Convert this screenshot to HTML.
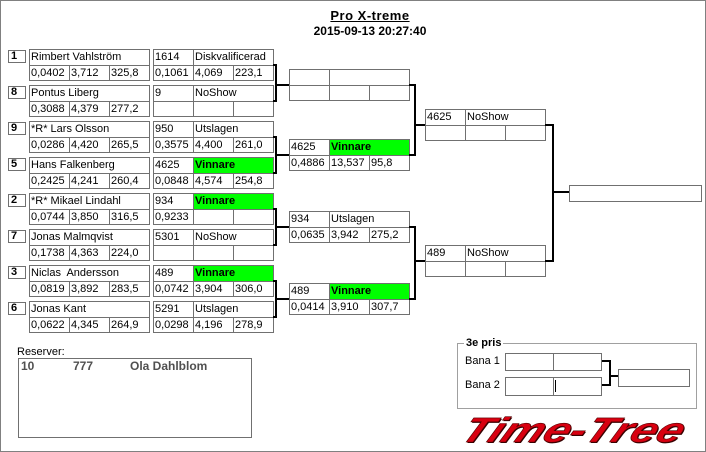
<!DOCTYPE html>
<html><head><meta charset="utf-8">
<style>
body{margin:0;width:706px;height:452px;position:relative;background:#fff;overflow:hidden;font-family:"Liberation Sans",sans-serif;color:#000}
div{position:absolute;box-sizing:border-box}
.a{border:1px solid #707070;height:17px;line-height:15px;font-size:11px;padding-left:1px;white-space:nowrap;overflow:hidden}
.b{border:1px solid #707070;height:16px;line-height:14px;font-size:11px;padding-left:1px;white-space:nowrap;overflow:hidden}
.w1{width:41px}.w2{width:81px}.w3{width:121px}
.g{background:#00ff00;font-weight:bold}
.k{background:#000}
.s{border:1px solid #707070;width:18px;height:13px;font-weight:bold;font-size:11px;line-height:11px;padding-left:2px}
.t{font-size:11px;white-space:nowrap}
.r{font-weight:bold;font-size:12px;color:#505050;white-space:nowrap;top:359px}
</style></head><body>
<div style="left:0;top:0;width:706px;height:452px;border:1px solid #808080"></div>

<div style="left:290px;top:8px;width:160px;text-align:center;font-weight:bold;font-size:13px;line-height:15px;letter-spacing:0.5px;text-decoration:underline">Pro X-treme</div>
<div style="left:290px;top:24px;width:160px;text-align:center;font-weight:bold;font-size:12px;line-height:14px">2015-09-13 20:27:40</div>

<!-- Row 1 T=49 -->
<div class="s" style="left:8px;top:50px">1</div>
<div class="a w3" style="left:29px;top:49px">Rimbert Vahlström</div>
<div class="b w1" style="left:29px;top:65px">0,0402</div>
<div class="b w1" style="left:69px;top:65px">3,712</div>
<div class="b w1" style="left:109px;top:65px">325,8</div>
<div class="a w1" style="left:153px;top:49px">1614</div>
<div class="a w2" style="left:193px;top:49px">Diskvalificerad</div>
<div class="b w1" style="left:153px;top:65px">0,1061</div>
<div class="b w1" style="left:193px;top:65px">4,069</div>
<div class="b w1" style="left:233px;top:65px">223,1</div>

<!-- Row 2 T=85 -->
<div class="s" style="left:8px;top:86px">8</div>
<div class="a w3" style="left:29px;top:85px">Pontus Liberg</div>
<div class="b w1" style="left:29px;top:101px">0,3088</div>
<div class="b w1" style="left:69px;top:101px">4,379</div>
<div class="b w1" style="left:109px;top:101px">277,2</div>
<div class="a w1" style="left:153px;top:85px">9</div>
<div class="a w2" style="left:193px;top:85px">NoShow</div>
<div class="b w1" style="left:153px;top:101px"></div>
<div class="b w1" style="left:193px;top:101px"></div>
<div class="b w1" style="left:233px;top:101px"></div>

<!-- Row 3 T=121 -->
<div class="s" style="left:8px;top:122px">9</div>
<div class="a w3" style="left:29px;top:121px">*R* Lars Olsson</div>
<div class="b w1" style="left:29px;top:137px">0,0286</div>
<div class="b w1" style="left:69px;top:137px">4,420</div>
<div class="b w1" style="left:109px;top:137px">265,5</div>
<div class="a w1" style="left:153px;top:121px">950</div>
<div class="a w2" style="left:193px;top:121px">Utslagen</div>
<div class="b w1" style="left:153px;top:137px">0,3575</div>
<div class="b w1" style="left:193px;top:137px">4,400</div>
<div class="b w1" style="left:233px;top:137px">261,0</div>

<!-- Row 4 T=157 -->
<div class="s" style="left:8px;top:158px">5</div>
<div class="a w3" style="left:29px;top:157px">Hans Falkenberg</div>
<div class="b w1" style="left:29px;top:173px">0,2425</div>
<div class="b w1" style="left:69px;top:173px">4,241</div>
<div class="b w1" style="left:109px;top:173px">260,4</div>
<div class="a w1" style="left:153px;top:157px">4625</div>
<div class="a w2 g" style="left:193px;top:157px">Vinnare</div>
<div class="b w1" style="left:153px;top:173px">0,0848</div>
<div class="b w1" style="left:193px;top:173px">4,574</div>
<div class="b w1" style="left:233px;top:173px">254,8</div>

<!-- Row 5 T=193 -->
<div class="s" style="left:8px;top:194px">2</div>
<div class="a w3" style="left:29px;top:193px">*R* Mikael Lindahl</div>
<div class="b w1" style="left:29px;top:209px">0,0744</div>
<div class="b w1" style="left:69px;top:209px">3,850</div>
<div class="b w1" style="left:109px;top:209px">316,5</div>
<div class="a w1" style="left:153px;top:193px">934</div>
<div class="a w2 g" style="left:193px;top:193px">Vinnare</div>
<div class="b w1" style="left:153px;top:209px">0,9233</div>
<div class="b w1" style="left:193px;top:209px"></div>
<div class="b w1" style="left:233px;top:209px"></div>

<!-- Row 6 T=229 -->
<div class="s" style="left:8px;top:230px">7</div>
<div class="a w3" style="left:29px;top:229px">Jonas Malmqvist</div>
<div class="b w1" style="left:29px;top:245px">0,1738</div>
<div class="b w1" style="left:69px;top:245px">4,363</div>
<div class="b w1" style="left:109px;top:245px">224,0</div>
<div class="a w1" style="left:153px;top:229px">5301</div>
<div class="a w2" style="left:193px;top:229px">NoShow</div>
<div class="b w1" style="left:153px;top:245px"></div>
<div class="b w1" style="left:193px;top:245px"></div>
<div class="b w1" style="left:233px;top:245px"></div>

<!-- Row 7 T=265 -->
<div class="s" style="left:8px;top:266px">3</div>
<div class="a w3" style="left:29px;top:265px">Niclas&nbsp; Andersson</div>
<div class="b w1" style="left:29px;top:281px">0,0819</div>
<div class="b w1" style="left:69px;top:281px">3,892</div>
<div class="b w1" style="left:109px;top:281px">283,5</div>
<div class="a w1" style="left:153px;top:265px">489</div>
<div class="a w2 g" style="left:193px;top:265px">Vinnare</div>
<div class="b w1" style="left:153px;top:281px">0,0742</div>
<div class="b w1" style="left:193px;top:281px">3,904</div>
<div class="b w1" style="left:233px;top:281px">306,0</div>

<!-- Row 8 T=301 -->
<div class="s" style="left:8px;top:302px">6</div>
<div class="a w3" style="left:29px;top:301px">Jonas Kant</div>
<div class="b w1" style="left:29px;top:317px">0,0622</div>
<div class="b w1" style="left:69px;top:317px">4,345</div>
<div class="b w1" style="left:109px;top:317px">264,9</div>
<div class="a w1" style="left:153px;top:301px">5291</div>
<div class="a w2" style="left:193px;top:301px">Utslagen</div>
<div class="b w1" style="left:153px;top:317px">0,0298</div>
<div class="b w1" style="left:193px;top:317px">4,196</div>
<div class="b w1" style="left:233px;top:317px">278,9</div>

<!-- Round 1 brackets -->
<div class="k" style="left:273px;top:64px;width:4px;height:2px"></div>
<div class="k" style="left:273px;top:100px;width:4px;height:2px"></div>
<div class="k" style="left:275px;top:64px;width:2px;height:38px"></div>
<div class="k" style="left:277px;top:84px;width:12px;height:2px"></div>

<div class="k" style="left:273px;top:136px;width:4px;height:2px"></div>
<div class="k" style="left:273px;top:172px;width:4px;height:2px"></div>
<div class="k" style="left:275px;top:136px;width:2px;height:38px"></div>
<div class="k" style="left:277px;top:154px;width:12px;height:2px"></div>

<div class="k" style="left:273px;top:208px;width:4px;height:2px"></div>
<div class="k" style="left:273px;top:244px;width:4px;height:2px"></div>
<div class="k" style="left:275px;top:208px;width:2px;height:38px"></div>
<div class="k" style="left:277px;top:226px;width:12px;height:2px"></div>

<div class="k" style="left:273px;top:280px;width:4px;height:2px"></div>
<div class="k" style="left:273px;top:316px;width:4px;height:2px"></div>
<div class="k" style="left:275px;top:280px;width:2px;height:38px"></div>
<div class="k" style="left:277px;top:298px;width:12px;height:2px"></div>

<!-- QF boxes -->
<div class="a w1" style="left:289px;top:69px"></div>
<div class="a w2" style="left:329px;top:69px"></div>
<div class="b w1" style="left:289px;top:85px"></div>
<div class="b w1" style="left:329px;top:85px"></div>
<div class="b w1" style="left:369px;top:85px"></div>

<div class="a w1" style="left:289px;top:139px">4625</div>
<div class="a w2 g" style="left:329px;top:139px">Vinnare</div>
<div class="b w1" style="left:289px;top:155px">0,4886</div>
<div class="b w1" style="left:329px;top:155px">13,537</div>
<div class="b w1" style="left:369px;top:155px">95,8</div>

<div class="a w1" style="left:289px;top:211px">934</div>
<div class="a w2" style="left:329px;top:211px">Utslagen</div>
<div class="b w1" style="left:289px;top:227px">0,0635</div>
<div class="b w1" style="left:329px;top:227px">3,942</div>
<div class="b w1" style="left:369px;top:227px">275,2</div>

<div class="a w1" style="left:289px;top:283px">489</div>
<div class="a w2 g" style="left:329px;top:283px">Vinnare</div>
<div class="b w1" style="left:289px;top:299px">0,0414</div>
<div class="b w1" style="left:329px;top:299px">3,910</div>
<div class="b w1" style="left:369px;top:299px">307,7</div>

<!-- Round 2 brackets -->
<div class="k" style="left:409px;top:84px;width:7px;height:2px"></div>
<div class="k" style="left:409px;top:154px;width:7px;height:2px"></div>
<div class="k" style="left:414px;top:84px;width:2px;height:72px"></div>
<div class="k" style="left:416px;top:124px;width:9px;height:2px"></div>

<div class="k" style="left:409px;top:226px;width:7px;height:2px"></div>
<div class="k" style="left:409px;top:298px;width:7px;height:2px"></div>
<div class="k" style="left:414px;top:226px;width:2px;height:74px"></div>
<div class="k" style="left:416px;top:260px;width:9px;height:2px"></div>

<!-- SF boxes -->
<div class="a w1" style="left:425px;top:109px">4625</div>
<div class="a w2" style="left:465px;top:109px">NoShow</div>
<div class="b w1" style="left:425px;top:125px"></div>
<div class="b w1" style="left:465px;top:125px"></div>
<div class="b w1" style="left:505px;top:125px"></div>

<div class="a w1" style="left:425px;top:245px">489</div>
<div class="a w2" style="left:465px;top:245px">NoShow</div>
<div class="b w1" style="left:425px;top:261px"></div>
<div class="b w1" style="left:465px;top:261px"></div>
<div class="b w1" style="left:505px;top:261px"></div>

<!-- Final bracket -->
<div class="k" style="left:545px;top:124px;width:9px;height:2px"></div>
<div class="k" style="left:545px;top:260px;width:9px;height:2px"></div>
<div class="k" style="left:552px;top:124px;width:2px;height:138px"></div>
<div class="k" style="left:554px;top:191px;width:15px;height:2px"></div>
<div class="a" style="left:569px;top:185px;width:133px"></div>

<!-- Reserver -->
<div class="t" style="left:17px;top:345px;line-height:14px">Reserver:</div>
<div style="left:18px;top:358px;width:234px;height:80px;border:1px solid #707070"></div>
<div class="r" style="left:21px">10</div>
<div class="r" style="left:73px">777</div>
<div class="r" style="left:130px">Ola Dahlblom</div>

<!-- 3e pris -->
<div style="left:457px;top:343px;width:240px;height:66px;border:1px solid #a0a0a0"></div>
<div style="left:464px;top:336px;background:#fff;padding:0 2px;font-weight:bold;font-size:11px;line-height:14px">3e pris</div>
<div class="t" style="left:465px;top:354px;line-height:14px">Bana 1</div>
<div class="t" style="left:465px;top:378px;line-height:14px">Bana 2</div>
<div style="left:505px;top:353px;width:49px;height:18px;border:1px solid #707070"></div>
<div style="left:553px;top:353px;width:49px;height:18px;border:1px solid #707070"></div>
<div style="left:505px;top:377px;width:49px;height:19px;border:1px solid #707070"></div>
<div style="left:553px;top:377px;width:49px;height:19px;border:1px solid #707070"></div>
<div class="k" style="left:555px;top:380px;width:1px;height:12px"></div>
<div class="k" style="left:602px;top:360px;width:9px;height:2px"></div>
<div class="k" style="left:602px;top:384px;width:9px;height:2px"></div>
<div class="k" style="left:609px;top:360px;width:2px;height:26px"></div>
<div class="k" style="left:611px;top:375px;width:7px;height:2px"></div>
<div style="left:618px;top:369px;width:72px;height:18px;border:1px solid #707070"></div>

<!-- Logo -->
<div style="left:455px;top:413px;font-style:italic;font-weight:bold;font-size:35px;line-height:35px;color:#d80010;white-space:nowrap;transform-origin:0 100%;transform:scaleX(1.33) skewX(-20deg);text-shadow:1px 1px 0 #300;-webkit-text-stroke:0.6px #500">Time-Tree</div>
</body></html>
